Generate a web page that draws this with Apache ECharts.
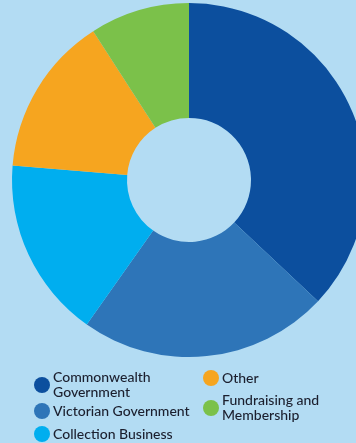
<!DOCTYPE html>
<html>
<head>
<meta charset="utf-8">
<script src="https://cdn.jsdelivr.net/npm/echarts@6/dist/echarts.min.js"></script>
<style>
html,body{margin:0;padding:0;background:#b3dcf3;}
#chart{width:356px;height:443px;}
</style>
</head>
<body>
<div id="chart"></div>
<script>
const categories = ['Commonwealth Government', 'Victorian Government', 'Collection Business', 'Other', 'Fundraising and Membership'];
const values = [37.0, 22.8, 16.5, 14.6, 9.1];
const colors = ['#0c4f9e', '#2e75b8', '#00aeef', '#f6a51f', '#7bc14a'];
const legendLabels = ['Commonwealth\nGovernment', 'Victorian Government', 'Collection Business', 'Other', 'Fundraising and\nMembership'];

const legendPos = [
  {left: 34, top: 370},
  {left: 34, top: 403},
  {left: 34, top: 426},
  {left: 203, top: 370},
  {left: 203, top: 393}
];

const chart = echarts.init(document.getElementById('chart'));
const legends = categories.map((c, i) => ({
  data: [c],
  left: legendPos[i].left,
  top: legendPos[i].top,
  orient: 'vertical',
  icon: 'circle',
  itemWidth: 16,
  itemHeight: 16,
  itemGap: 0,
  padding: 0,
  selectedMode: false,
  formatter: () => legendLabels[i],
  textStyle: {
    fontFamily: 'Lato',
    fontSize: 14,
    fontWeight: 500,
    color: '#1b1f2e',
    lineHeight: 15,
    padding: [0, 0, 0, -2]
  }
}));

chart.setOption({
  backgroundColor: '#b3dcf3',
  animation: false,
  color: colors,
  legend: legends,
  series: [{
    type: 'pie',
    center: [189, 180],
    radius: [62, 177],
    startAngle: 90,
    clockwise: true,
    label: {show: false},
    labelLine: {show: false},
    itemStyle: {borderWidth: 0, borderRadius: 0},
    emphasis: {disabled: true},
    data: categories.map((c, i) => ({name: c, value: values[i]}))
  }]
});
</script>
</body>
</html>
